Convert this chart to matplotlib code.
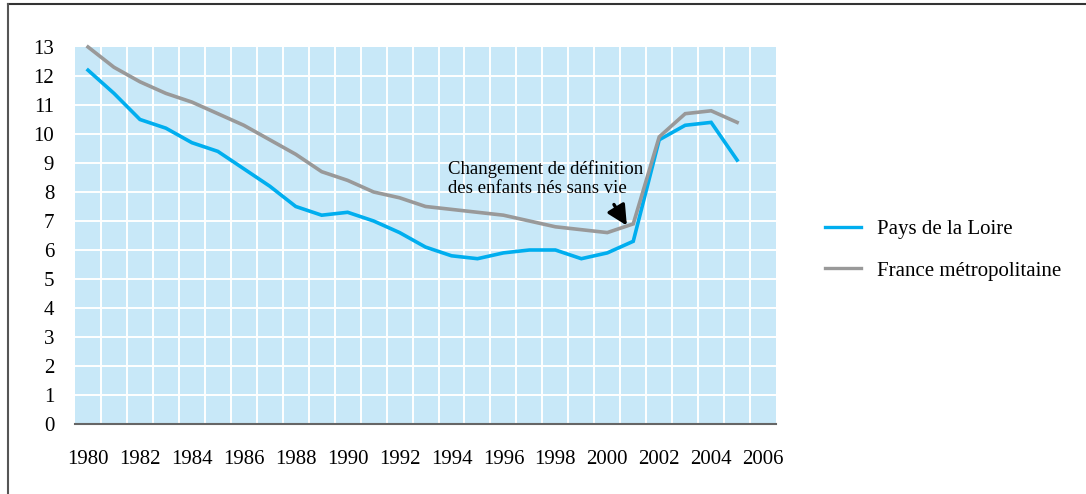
import matplotlib.pyplot as plt
from matplotlib.lines import Line2D

years = list(range(1980, 2006))
pays_loire = [12.2, 11.4, 10.5, 10.2, 9.7, 9.4, 8.8, 8.2, 7.5, 7.2, 7.3, 7.0, 6.6,
              6.1, 5.8, 5.7, 5.9, 6.0, 6.0, 5.7, 5.9, 6.3, 9.8, 10.3, 10.4, 9.1]
france_metro = [13.0, 12.3, 11.8, 11.4, 11.1, 10.7, 10.3, 9.8, 9.3, 8.7, 8.4, 8.0, 7.8,
                7.5, 7.4, 7.3, 7.2, 7.0, 6.8, 6.7, 6.6, 6.9, 9.9, 10.7, 10.8, 10.4]
xtick_years = list(range(1980, 2007, 2))
labels = ["Pays de la Loire", "France métropolitaine"]
note = "Changement de définition\ndes enfants nés sans vie"

blue = "#00AEEF"
grey = "#999999"

plt.rcParams['font.family'] = ['Liberation Serif', 'DejaVu Serif']

fig = plt.figure(figsize=(10.86, 4.94), dpi=100)
ax = fig.add_axes([0.0691, 0.1417, 0.6455, 0.7632])
ax.set_facecolor("#C8E8F8")

ax.plot(years, pays_loire, color=blue, lw=2.6, solid_joinstyle='miter', zorder=3, clip_on=False)
ax.plot(years, france_metro, color=grey, lw=2.6, solid_joinstyle='miter', zorder=3, clip_on=False)

ax.set_xlim(1979.5, 2006.5)
ax.set_ylim(0, 13)
ax.set_yticks(range(0, 14))
ax.set_xticks(xtick_years)
ax.set_xticks([y + 0.5 for y in range(1980, 2006)], minor=True)
ax.grid(which='minor', axis='x', color='white', lw=1.4, zorder=1)
for v in range(1, 13):
    ax.axhline(v, color='white', lw=1.4, zorder=1)
ax.tick_params(which='both', length=0, labelsize=15)
ax.tick_params(axis='y', pad=15)
ax.tick_params(axis='x', pad=19)
for s in ['top', 'right', 'left']:
    ax.spines[s].set_visible(False)
ax.spines['bottom'].set_color('#666666')
ax.spines['bottom'].set_linewidth(1.5)
ax.spines['bottom'].set_zorder(2)

ax.text(1993.85, 8.45, note, fontsize=13.5, ha='left', va='center', linespacing=1.15)
ax.annotate('', xy=(2000.81, 6.76), xytext=(2000.2, 7.65),
            arrowprops=dict(arrowstyle='-|>', color='black', lw=2.4, mutation_scale=30))

handles = [Line2D([], [], color=blue, lw=2.4), Line2D([], [], color=grey, lw=2.4)]
fig.legend(handles, labels, loc='center left', bbox_to_anchor=(0.7597, 0.4939),
           frameon=False, fontsize=15, handlelength=1.75, handletextpad=0.75,
           labelspacing=1.05, borderpad=0, borderaxespad=0)

# frame lines (top and left) around the figure
fig.add_artist(Line2D([7.5 / 1086, 1], [1 - 4.5 / 494, 1 - 4.5 / 494], color='#333333', lw=1.5))
fig.add_artist(Line2D([7.5 / 1086, 7.5 / 1086], [0, 1 - 4.5 / 494], color='#555555', lw=1.5))

fig.savefig("out.png", dpi=100)
